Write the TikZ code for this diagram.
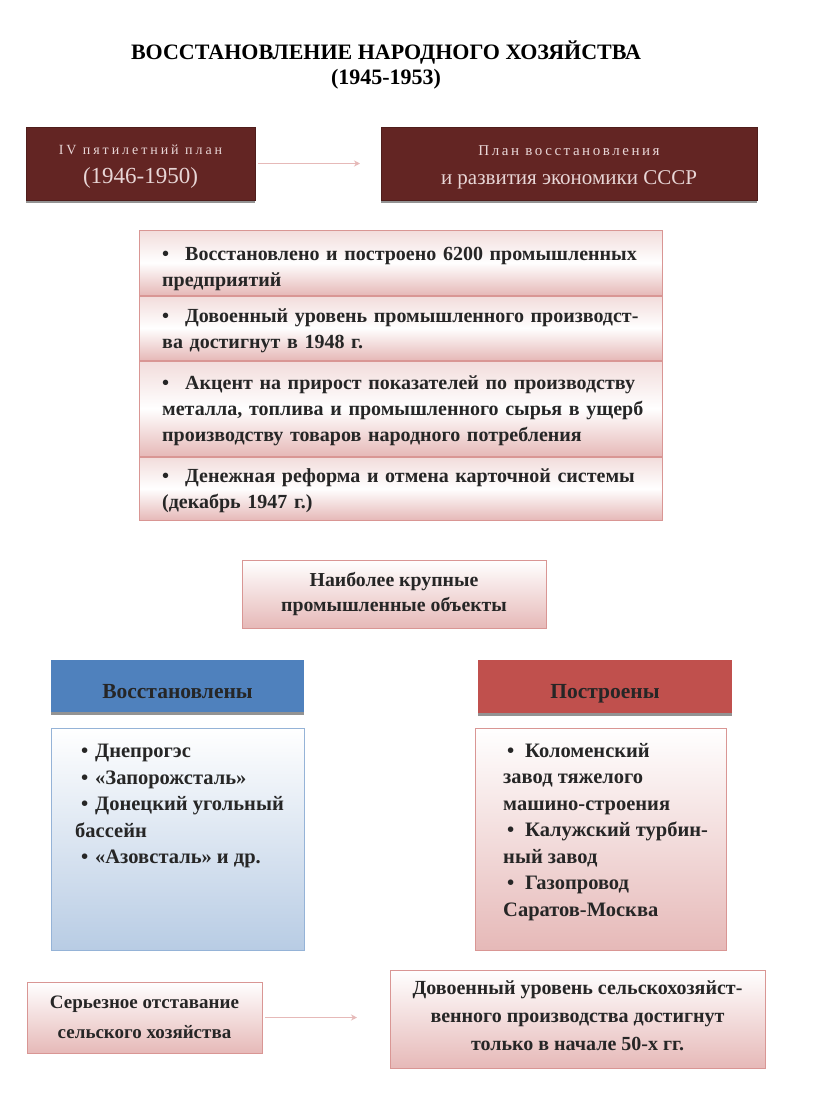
\documentclass[tikz,border=0pt]{standalone}
\usepackage{fontspec}
\setmainfont{Liberation Serif}
\usetikzlibrary{arrows.meta,shadows}
\definecolor{maroon}{HTML}{632523}
\definecolor{maroontxt}{HTML}{E8D6D6}
\definecolor{hblue}{HTML}{4F81BD}
\definecolor{hred}{HTML}{C0504D}
\definecolor{pinkl}{HTML}{F2DCDB}
\definecolor{pinkm}{HTML}{E6B9B8}
\definecolor{pinkb}{HTML}{D99694}
\definecolor{bluel}{HTML}{B8CCE4}
\definecolor{blueb}{HTML}{95B3D7}
\definecolor{txt}{HTML}{262626}
\newcommand{\bodyfont}{\fontsize{20}{26}\selectfont\bfseries}
\newcommand{\listfont}{\fontsize{20.5}{26.5}\selectfont\bfseries}
\newcommand{\bul}{\makebox[23pt][l]{•}}
\tikzset{
  darkbox/.style={fill=maroon, draw=maroon!80!black,
    drop shadow={shadow xshift=0pt, shadow yshift=-3pt, opacity=0.6, fill=black!70}},
  darktext/.style={text=maroontxt, align=center, font=\fontsize{20}{29}\selectfont, inner sep=0pt},
  stackbox/.style={draw=pinkb, line width=0.6pt, top color=pinkl, bottom color=pinkm, middle color=white,
    minimum width=523pt},
  stacktext/.style={text=txt, font=\bodyfont, align=left, text width=478pt, inner sep=0pt, anchor=north west},
  pinkbox/.style={draw=pinkb, line width=0.6pt, top color=white, bottom color=pinkm,
    text=txt, align=center},
  pinktext/.style={text=txt, align=center, inner sep=0pt},
  headbox/.style={drop shadow={shadow xshift=0pt, shadow yshift=-3pt, opacity=0.7, fill=black!60}},
  headtext/.style={text=black!85, font=\fontsize{21.5}{26}\selectfont\bfseries, inner sep=0pt, anchor=base},
  bluelist/.style={draw=blueb, line width=0.6pt, top color=white, bottom color=bluel},
  redlist/.style={draw=pinkb, line width=0.6pt, top color=white, bottom color=pinkm},
  listtext/.style={text=txt, font=\listfont, align=left, inner sep=0pt, anchor=north west},
  pinkarrow/.style={draw=pinkm, line width=1.2pt, -{Stealth[length=6pt,width=6pt]}},
}
\begin{document}
\begin{tikzpicture}[x=1pt,y=-1pt]
\useasboundingbox (0,0) rectangle (816,1109);
\fill[white] (0,0) rectangle (816,1109);
% title
\node[font=\fontsize{22}{25}\selectfont\bfseries, align=center, text=black] (title) at (386,65)
  {ВОССТАНОВЛЕНИЕ НАРОДНОГО ХОЗЯЙСТВА\\(1945-1953)};
% top plan boxes
\node[darkbox, minimum width=229pt, minimum height=73pt] (plan1) at (140.5,163.5) {};
\node[darktext] (plan1t) at (140.5,167)
  {{\fontsize{14}{18}\selectfont\addfontfeature{LetterSpace=21}IV пятилетний план}\\{\fontsize{23}{29}\selectfont (1946-1950)}};
\node[darkbox, minimum width=376pt, minimum height=73pt] (plan2) at (569,163.5) {};
\node[darktext] (plan2t) at (569,167)
  {{\fontsize{15}{18}\selectfont\addfontfeature{LetterSpace=17}План восстановления}\\{\fontsize{21}{29}\selectfont и развития экономики СССР}};
\draw[pinkarrow] (plan1.east) ++(3,0) coordinate (a1s) -- (360,163.5) coordinate (a1e);
% stacked boxes
\node[stackbox, minimum height=65pt] (sa) at (400.5,262.5) {};
\node[stackbox, minimum height=64pt] (sb) at (400.5,328) {};
\node[stackbox, minimum height=95pt] (sc) at (400.5,408.5) {};
\node[stackbox, minimum height=63pt] (sd) at (400.5,488.5) {};
\node[stacktext] (sat) at (162,247)
  {\bul Восстановлено и построено 6200 промышленных\\предприятий};
\node[stacktext] (sbt) at (162,309)
  {\bul Довоенный уровень промышленного производст-\\ва достигнут в 1948 г.};
\node[stacktext] (sct) at (162,376)
  {\makebox[476pt][s]{\bul Акцент на прирост показателей по производству}\\
   \makebox[476pt][s]{металла, топлива и промышленного сырья в ущерб}\\
   производству товаров народного потребления};
\node[stacktext] (sdt) at (162,468)
  {\bul Денежная реформа и отмена карточной системы\\(декабрь 1947 г.)};
% central box
\node[pinkbox, font=\fontsize{19.8}{25}\selectfont\bfseries, minimum width=304pt, minimum height=68pt] (big) at (394,594)
  {Наиболее крупные\\промышленные объекты};
% headers
\node[headbox, fill=hblue, minimum width=253pt, minimum height=52pt] (hb) at (177.5,686) {};
\node[headtext] (hbt) at (177.5,698) {Восстановлены};
\node[headbox, fill=hred, minimum width=254pt, minimum height=53pt] (hr) at (605,686.5) {};
\node[headtext] (hrt) at (605,698) {Построены};
% lists
\node[bluelist, minimum width=253pt, minimum height=222pt] (lb) at (177.5,839) {};
\node[listtext] (lbt) at (75,744)
  {\hspace*{6pt}\makebox[14pt][l]{•}Днепрогэс\\
   \hspace*{6pt}\makebox[14pt][l]{•}«Запорожсталь»\\
   \hspace*{6pt}\makebox[14pt][l]{•}Донецкий угольный\\
   бассейн\\
   \hspace*{6pt}\makebox[14pt][l]{•}«Азовсталь» и др.};
\node[redlist, minimum width=251pt, minimum height=222pt] (lr) at (600.5,839) {};
\node[listtext] (lrt) at (503,743)
  {\hspace*{4pt}\makebox[18pt][l]{•}Коломенский\\
   завод тяжелого\\
   машино-строения\\
   \hspace*{4pt}\makebox[18pt][l]{•}Калужский турбин-\\
   ный завод\\
   \hspace*{4pt}\makebox[18pt][l]{•}Газопровод\\
   Саратов-Москва};
% bottom
\node[pinkbox, font=\fontsize{19}{30}\selectfont\bfseries, minimum width=235pt, minimum height=71pt] (agl) at (144.5,1017.5)
  {Серьезное отставание\\сельского хозяйства};
\node[pinkbox, minimum width=375pt, minimum height=98pt] (agr) at (577.5,1019) {};
\node[pinktext, font=\fontsize{20}{28}\selectfont\bfseries] (agrt) at (577.5,1016)
  {Довоенный уровень сельскохозяйст-\\венного производства достигнут\\только в начале 50-х гг.};
\draw[pinkarrow] (agl.east) ++(3,0) coordinate (a2s) -- (357,1017.5) coordinate (a2e);
\end{tikzpicture}
\end{document}
